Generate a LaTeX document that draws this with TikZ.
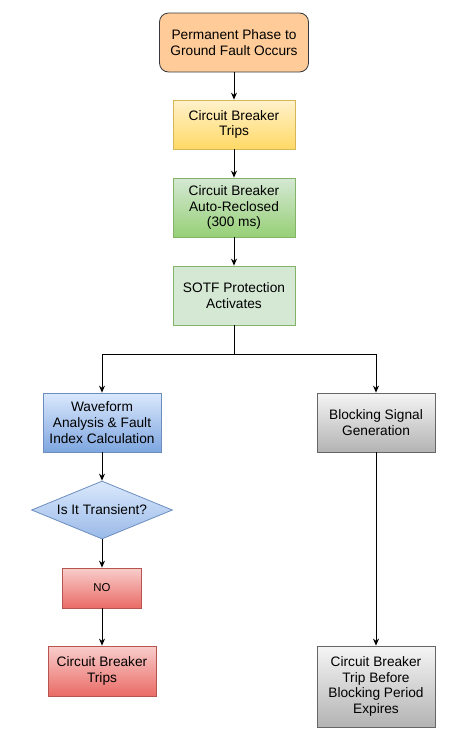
\documentclass[tikz,border=0pt]{standalone}
\usepackage{fontspec}
\setmainfont{Liberation Sans}
\usetikzlibrary{shapes.geometric, arrows.meta}

\definecolor{faultfill}{HTML}{FFCC99}
\definecolor{faultline}{HTML}{36393D}
\definecolor{yeltop}{HTML}{FFF2CC}
\definecolor{yelbot}{HTML}{FFD966}
\definecolor{yelline}{HTML}{D6B656}
\definecolor{grntop}{HTML}{D5E8D4}
\definecolor{grnbot}{HTML}{97D077}
\definecolor{grnline}{HTML}{82B366}
\definecolor{blutop}{HTML}{DAE8FC}
\definecolor{blubot}{HTML}{7EA6E0}
\definecolor{bluline}{HTML}{6C8EBF}
\definecolor{redtop}{HTML}{F8CECC}
\definecolor{redbot}{HTML}{EA6B66}
\definecolor{redline}{HTML}{B85450}
\definecolor{gratop}{HTML}{F5F5F5}
\definecolor{grabot}{HTML}{B3B3B3}
\definecolor{graline}{HTML}{666666}

\begin{document}
\begin{tikzpicture}[x=1pt,y=-1pt,
  every node/.style={font=\fontsize{13.7}{15.8}\selectfont, align=center, inner sep=0pt},
  box/.style={rectangle, draw, line width=0.8pt, minimum width=122pt, minimum height=59pt},
  yelbox/.style={box, top color=yeltop, bottom color=yelbot, draw=yelline},
  grnbox/.style={box, top color=grntop, bottom color=grnbot, draw=grnline},
  blubox/.style={box, top color=blutop, bottom color=blubot, draw=bluline},
  redbox/.style={box, top color=redtop, bottom color=redbot, draw=redline},
  grabox/.style={box, top color=gratop, bottom color=grabot, draw=graline},
  flow/.style={line width=1pt, -{Stealth[length=7pt,width=6pt]}}]
\useasboundingbox (0,0) rectangle (470,734);

% main column
\node[box, rounded corners=9pt, minimum width=149pt, fill=faultfill, draw=faultline] (fault) at (234,42.5) {Permanent Phase to\\Ground Fault Occurs};
\node[yelbox, minimum height=49pt] (trip) at (234,124.5) {Circuit Breaker\\Trips};
\node[grnbox] (reclose) at (234,207.5) {Circuit Breaker\\Auto-Reclosed\\(300 ms)};
\node[box, fill=grntop, draw=grnline] (sotf) at (234,295.5) {SOTF Protection\\Activates};
\coordinate (split) at (234,354);

% left branch
\node[blubox, minimum width=118pt] (wave) at (102,422.5) {Waveform\\Analysis \& Fault\\Index Calculation};
\node[diamond, draw=bluline, line width=0.8pt, top color=blutop, bottom color=blubot!70!blutop, aspect=2.4, minimum width=141pt, minimum height=58pt] (trans) at (102,510) {Is It Transient?};
\node[redbox, minimum width=79pt, minimum height=40pt, font=\fontsize{11.4}{13.5}\selectfont] (no) at (102,588) {NO};
\node[redbox, minimum width=108pt, minimum height=50pt] (cbtrip) at (102,671) {Circuit Breaker\\Trips};

% right branch
\node[grabox, minimum width=118pt] (block) at (376,422.5) {Blocking Signal\\Generation};
\node[grabox, minimum width=118pt, minimum height=81pt] (expire) at (376,686.5) {Circuit Breaker\\Trip Before\\Blocking Period\\Expires};

\draw[flow] (fault) -- (trip);
\draw[flow] (trip) -- (reclose);
\draw[flow] (reclose) -- (sotf);
\draw[line width=1pt] (sotf) -- (split);
\draw[flow] (split) -| (wave);
\draw[flow] (split) -| (block);
\draw[flow] (wave) -- (trans);
\draw[flow] (trans) -- (no);
\draw[flow] (no) -- (cbtrip);
\draw[flow] (block) -- (expire);
\end{tikzpicture}
\end{document}
